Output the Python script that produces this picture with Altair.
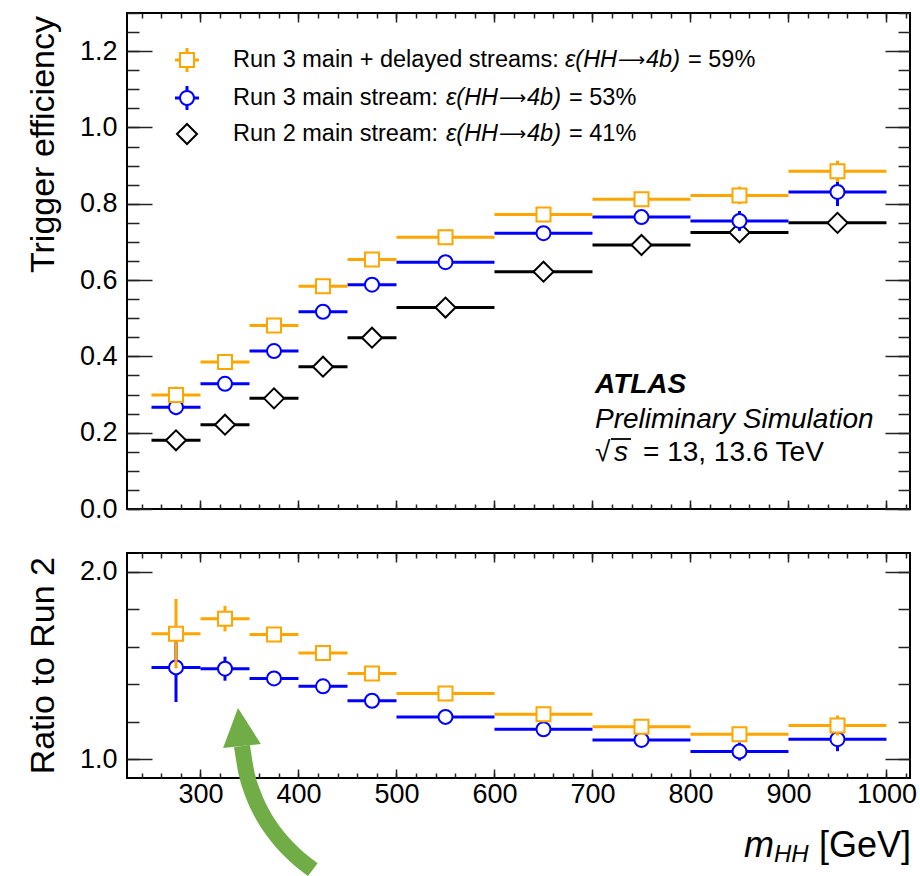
import altair as alt
import pandas as pd

# Bin edges in m_HH [GeV]
bin_lo = [250, 300, 350, 400, 450, 500, 600, 700, 800, 900]
bin_hi = [300, 350, 400, 450, 500, 600, 700, 800, 900, 1000]

# Trigger efficiency per bin
eff_run3_delayed = [0.299, 0.385, 0.481, 0.584, 0.654, 0.712, 0.772, 0.812, 0.822, 0.885]
eff_run3_delayed_err = [0.022, 0.012, 0.010, 0.010, 0.010, 0.008, 0.010, 0.012, 0.023, 0.028]
eff_run3_main = [0.267, 0.328, 0.414, 0.517, 0.588, 0.647, 0.723, 0.765, 0.755, 0.831]
eff_run3_main_err = [0.021, 0.012, 0.010, 0.010, 0.010, 0.008, 0.010, 0.012, 0.026, 0.037]
eff_run2_main = [0.180, 0.221, 0.290, 0.373, 0.449, 0.528, 0.622, 0.692, 0.725, 0.750]
eff_run2_main_err = [0.008, 0.008, 0.008, 0.008, 0.008, 0.006, 0.008, 0.010, 0.012, 0.015]

# Ratio of the Run 3 efficiencies to Run 2
ratio_run3_delayed = [1.670, 1.750, 1.665, 1.567, 1.458, 1.351, 1.240, 1.173, 1.134, 1.180]
ratio_run3_delayed_err = [0.185, 0.068, 0.020, 0.018, 0.015, 0.012, 0.015, 0.020, 0.030, 0.053]
ratio_run3_main = [1.490, 1.483, 1.431, 1.389, 1.312, 1.226, 1.160, 1.103, 1.041, 1.107]
ratio_run3_main_err = [0.185, 0.064, 0.020, 0.018, 0.015, 0.012, 0.015, 0.020, 0.048, 0.064]

# Curved annotation arrow (data units of the ratio panel; runs below the axis)
arrow_x = [342.3, 346.7, 354.4, 365.3, 379.5, 396.8, 414.6]
arrow_y = [1.071, 0.932, 0.804, 0.687, 0.581, 0.486, 0.411]
arrow_head_x = [340.3]
arrow_head_y = [1.172]

ORANGE = "#FFA500"
BLUE = "#0000FF"
BLACK = "#000000"
GREEN = "#70AD47"
FONT = "Liberation Sans"

W = 783
H_TOP = 496
H_BOT = 225
X_DOMAIN = [225, 1024]

x_scale = alt.Scale(domain=X_DOMAIN, nice=False, zero=False)
y_top_scale = alt.Scale(domain=[0, 1.3], nice=False, zero=False)
y_bot_scale = alt.Scale(domain=[0.9, 2.1], nice=False, zero=False)

x_major = list(range(300, 1001, 100))
x_minor = list(range(240, 1021, 20))
y_top_major = [round(0.2 * i, 2) for i in range(7)]
y_top_minor = [round(0.05 * i, 2) for i in range(27)]
y_bot_major = [1.0, 2.0]
y_bot_minor = [round(1.0 + 0.2 * i, 2) for i in range(6)]

one = pd.DataFrame({"k": [0]})


def series_frame(vals, errs):
    return pd.DataFrame({
        "lo": bin_lo,
        "hi": bin_hi,
        "mid": [(a + b) / 2 for a, b in zip(bin_lo, bin_hi)],
        "val": vals,
        "down": [v - e for v, e in zip(vals, errs)],
        "up": [v + e for v, e in zip(vals, errs)],
    })


def series_layers(df, color, shape, size, ys):
    base = alt.Chart(df)
    hbar = base.mark_rule(color=color, strokeWidth=3).encode(
        x=alt.X("lo:Q", scale=x_scale, axis=None),
        x2="hi:Q",
        y=alt.Y("val:Q", scale=ys, axis=None),
    )
    vbar = base.mark_rule(color=color, strokeWidth=3).encode(
        x=alt.X("mid:Q", scale=x_scale, axis=None),
        y=alt.Y("down:Q", scale=ys, axis=None),
        y2="up:Q",
    )
    pts = base.mark_point(
        shape=shape, size=size, filled=True, fill="white", stroke=color,
        strokeWidth=2, opacity=1, fillOpacity=1, strokeOpacity=1,
    ).encode(
        x=alt.X("mid:Q", scale=x_scale, axis=None),
        y=alt.Y("val:Q", scale=ys, axis=None),
    )
    return [hbar, vbar, pts]


def axis_layers(ys, y_dom_min, y_major, y_minor, x_labels):
    # Inward-pointing ticks: each axis is pulled inside the frame by its tick length.
    d = pd.DataFrame({"x": [X_DOMAIN[0]], "y": [y_dom_min]})
    common = dict(domain=False, grid=False, tickColor="#222222", tickWidth=1.5,
                  title=None, labelFont=FONT, labelFontSize=27, labelColor="black",
                  labelOverlap=False, labelFlush=False, minExtent=0, maxExtent=200)
    specs = [
        ("bottom", "left", x_major, y_major, 9, 25, x_labels, True),
        ("bottom", "left", x_minor, y_minor, 5, 12, False, False),
        ("top", "right", x_major, y_major, 9, 25, False, False),
        ("top", "right", x_minor, y_minor, 5, 12, False, False),
    ]
    out = []
    for xo, yo, xv, yv, xt, yt, xl, yl in specs:
        ax = alt.Axis(orient=xo, values=xv, tickSize=xt, offset=-xt, labels=xl,
                      format="d", labelPadding=3, **common)
        ay = alt.Axis(orient=yo, values=yv, tickSize=yt, offset=-yt, labels=yl,
                      format=".1f", labelPadding=10, **common)
        out.append(
            alt.Chart(d).mark_point(opacity=0).encode(
                x=alt.X("x:Q", scale=x_scale, axis=ax),
                y=alt.Y("y:Q", scale=ys, axis=ay),
            )
        )
    return out


def txt(s, x, y, size, style="normal", weight="normal", align="left",
        baseline="middle", angle=0, color="black", font=FONT):
    return alt.Chart(one).mark_text(
        text=s, font=font, fontSize=size, fontStyle=style, fontWeight=weight,
        align=align, baseline=baseline, angle=angle, color=color,
    ).encode(x=alt.value(x), y=alt.value(y))


def stub(x1, x2, y1, y2, color, width=3):
    return alt.Chart(one).mark_rule(color=color, strokeWidth=width).encode(
        x=alt.value(x1), x2=alt.value(x2), y=alt.value(y1), y2=alt.value(y2)
    )


def legend_symbol(shape, size, color, x, y):
    return alt.Chart(one).mark_point(
        shape=shape, size=size, filled=True, fill="white", stroke=color,
        strokeWidth=2, opacity=1,
    ).encode(x=alt.value(x), y=alt.value(y))


# ---------- efficiency panel ----------
top_layers = axis_layers(y_top_scale, 0, y_top_major, y_top_minor, False)
top_layers += series_layers(series_frame(eff_run2_main, eff_run2_main_err), BLACK, "diamond", 400, y_top_scale)
top_layers += series_layers(series_frame(eff_run3_main, eff_run3_main_err), BLUE, "circle", 196, y_top_scale)
top_layers += series_layers(series_frame(eff_run3_delayed, eff_run3_delayed_err), ORANGE, "square", 196, y_top_scale)

# legend
LX, LT = 60, 106
rows = [47, 85, 121]
top_layers += [
    stub(LX - 12, LX + 12, rows[0], rows[0], ORANGE),
    stub(LX, LX, rows[0] - 12, rows[0] + 12, ORANGE),
    legend_symbol("square", 196, ORANGE, LX, rows[0]),
    stub(LX - 12, LX + 12, rows[1], rows[1], BLUE),
    stub(LX, LX, rows[1] - 12, rows[1] + 12, BLUE),
    legend_symbol("circle", 196, BLUE, LX, rows[1]),
    legend_symbol("diamond", 400, BLACK, LX, rows[2]),
]
legend_rows = [
    ("Run 3 main + delayed streams:", 438, "= 59%"),
    ("Run 3 main stream:", 319, "= 53%"),
    ("Run 2 main stream:", 319, "= 41%"),
]
LFS = 23.5
for (prefix, xm, value), ry in zip(legend_rows, rows):
    top_layers += [
        txt(prefix, LT, ry, LFS),
        txt("\u03b5(HH", xm, ry, LFS, style="italic"),
        txt("\u27f6", xm + 53, ry, 19, font="DejaVu Sans"),
        txt("4b)", xm + 81, ry, LFS, style="italic"),
        txt(value, xm + 123, ry, LFS),
    ]

# experiment label
AX = 468
top_layers += [
    txt("ATLAS", AX, 380, 28, style="italic", weight="bold", baseline="alphabetic"),
    txt("Preliminary Simulation", AX, 415, 28, style="italic", baseline="alphabetic"),
    txt("\u221a", AX, 448, 28, baseline="alphabetic"),
    stub(AX + 16, AX + 36, 426, 426, BLACK, width=1.8),
    txt("s", AX + 19, 448, 28, style="italic", baseline="alphabetic"),
    txt("= 13, 13.6 TeV", AX + 48, 448, 28, baseline="alphabetic"),
    txt("Trigger efficiency", -83, 3, 34, align="right", angle=270),
]

top = alt.layer(*top_layers).resolve_axis(x="independent", y="independent").properties(
    width=W, height=H_TOP
)

# ---------- ratio panel ----------
bot_layers = axis_layers(y_bot_scale, 0.9, y_bot_major, y_bot_minor, True)
bot_layers += series_layers(series_frame(ratio_run3_main, ratio_run3_main_err), BLUE, "circle", 196, y_bot_scale)
bot_layers += series_layers(series_frame(ratio_run3_delayed, ratio_run3_delayed_err), ORANGE, "square", 196, y_bot_scale)

arrow_df = pd.DataFrame({"x": arrow_x, "y": arrow_y})
head_df = pd.DataFrame({"x": arrow_head_x, "y": arrow_head_y})
bot_layers += [
    alt.Chart(arrow_df).mark_line(color=GREEN, strokeWidth=16, interpolate="monotone",
                                  strokeCap="butt", clip=False).encode(
        x=alt.X("x:Q", scale=x_scale, axis=None),
        y=alt.Y("y:Q", scale=y_bot_scale, axis=None),
    ),
    alt.Chart(head_df).mark_point(shape="M0,-1L-1,1L1,1Z", size=1444, filled=True,
                                  color=GREEN, opacity=1, angle=354).encode(
        x=alt.X("x:Q", scale=x_scale, axis=None),
        y=alt.Y("y:Q", scale=y_bot_scale, axis=None),
    ),
    txt("Ratio to Run 2", -83, 4, 34, align="right", angle=270),
    txt("m", 617, 293, 36, style="italic"),
    txt("HH", 647, 302, 24, style="italic"),
    txt("[GeV]", 784, 293, 36, align="right"),
]

bottom = alt.layer(*bot_layers).resolve_axis(x="independent", y="independent").properties(
    width=W, height=H_BOT
)

chart = alt.vconcat(top, bottom, spacing=44, bounds="flush").configure_view(
    stroke="black", strokeWidth=2
).properties(
    padding={"left": 26, "top": 11, "right": 0, "bottom": 0},
    background="white",
)

chart.save("out.html", embed_options={"renderer": "svg", "actions": False})
